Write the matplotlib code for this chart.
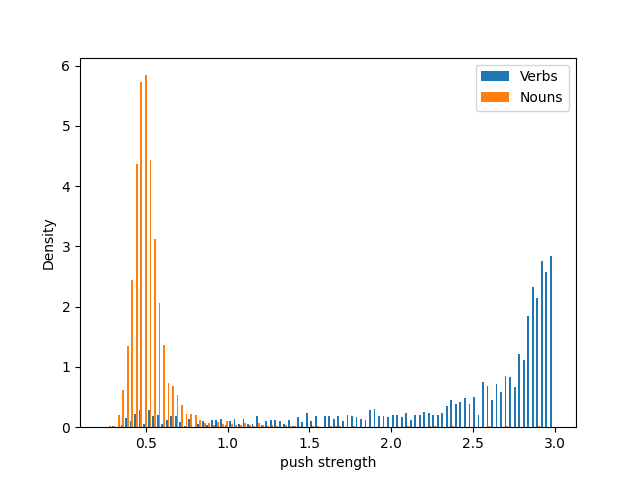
#push strength histogram, verbs vs nouns
import numpy as np
import matplotlib
matplotlib.use("Agg")
import matplotlib.pyplot as plt

# histogram bins
lo = 0.232
hi = 2.995
nbins = 100

# density per bin (bin 0 .. 99)
verbs = [0, 0, 0.02, 0, 0.03, 0.16, 0.1, 0.22, 0.28, 0.05,
         0.28, 0.18, 0.2, 0.05, 0.12, 0.18, 0.19, 0.09, 0.02, 0.14,
         0, 0.05, 0.1, 0.03, 0.12, 0.12, 0.14, 0.03, 0.1, 0.14,
         0.05, 0.14, 0.05, 0.05, 0.19, 0.04, 0.1, 0.12, 0.12, 0.1,
         0.05, 0.12, 0.02, 0.17, 0.08, 0.24, 0.1, 0.18, 0, 0.18,
         0.18, 0.13, 0.18, 0.1, 0.2, 0.18, 0.17, 0.13, 0.12, 0.28,
         0.3, 0.18, 0.18, 0.17, 0.2, 0.2, 0.17, 0.23, 0.12, 0.21,
         0.21, 0.26, 0.23, 0.21, 0.21, 0.23, 0.35, 0.45, 0.38, 0.41,
         0.48, 0.38, 0.5, 0.21, 0.75, 0.68, 0.45, 0.71, 0.58, 0.85,
         0.83, 0.66, 1.21, 1.11, 1.84, 2.32, 2.14, 2.75, 2.57, 2.84]
nouns = [0, 0.02, 0.02, 0.2, 0.61, 1.35, 2.45, 4.36, 5.72, 5.84,
         4.43, 3.12, 2.06, 1.36, 0.73, 0.68, 0.54, 0.37, 0.22, 0.22,
         0.2, 0.12, 0.07, 0.07, 0.03, 0.08, 0.05, 0.1, 0.05, 0.03,
         0.03, 0.07, 0.03, 0.02, 0.07, 0.03, 0.02, 0.03, 0.02, 0,
         0.03, 0.02, 0.02, 0.02, 0, 0, 0.02, 0.02, 0, 0,
         0.02, 0.02, 0.02, 0, 0, 0.02, 0, 0, 0, 0,
         0, 0, 0, 0, 0, 0, 0, 0.02, 0, 0,
         0, 0, 0.02, 0.02, 0, 0, 0, 0.02, 0, 0,
         0, 0, 0, 0, 0, 0.02, 0, 0, 0, 0.02,
         0, 0, 0, 0, 0, 0, 0.02, 0, 0, 0]

edges = np.linspace(lo, hi, nbins + 1)
centers = 0.5*(edges[:-1] + edges[1:])

fig, ax = plt.subplots(figsize=(6.4, 4.8), dpi=100)
ax.hist([centers, centers], bins=edges, weights=[verbs, nouns], label=["Verbs", "Nouns"])
ax.set_xlabel("push strength")
ax.set_ylabel("Density")
ax.legend()
fig.savefig("out.png")
